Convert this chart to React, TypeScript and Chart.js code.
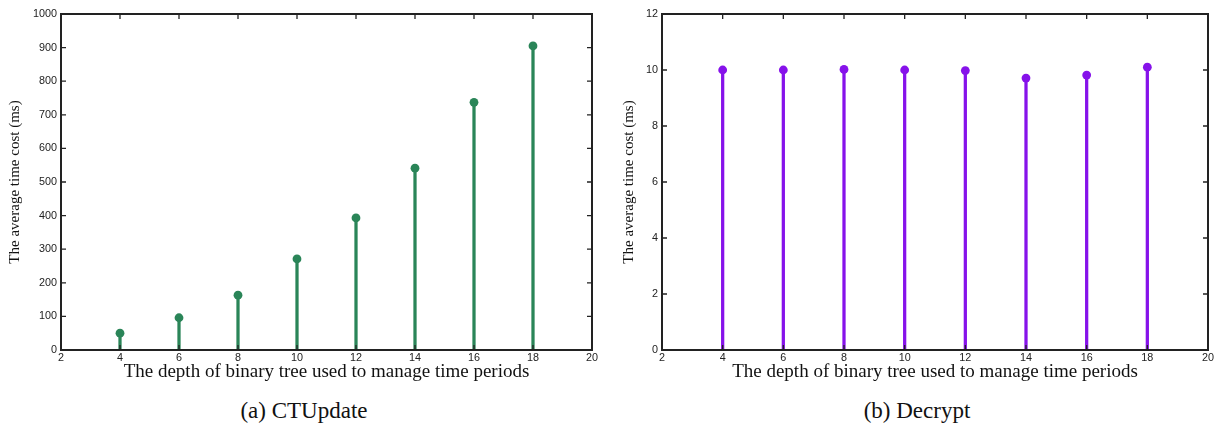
import React, { useEffect, useRef } from "react";
import { Chart, registerables } from "chart.js";

Chart.register(...registerables);

const depths = [4, 6, 8, 10, 12, 14, 16, 18];
const ctUpdateMs = [50, 96, 163, 271, 393, 541, 737, 905];
const decryptMs = [10.0, 10.0, 10.02, 10.0, 9.98, 9.71, 9.82, 10.1];

const xTitle = "The depth of binary tree used to manage time periods";
const yTitle = "The average time cost (ms)";

const framePlugin = {
  id: "frameTicks",
  afterDraw(chart: any) {
    const { ctx, chartArea: a, scales } = chart;
    const xs = scales.x;
    const ys = scales.y;
    const len = 5;
    ctx.save();
    ctx.strokeStyle = "#222";
    ctx.lineWidth = 1.3;
    ctx.beginPath();
    xs.ticks.forEach((t: any) => {
      const px = xs.getPixelForValue(t.value);
      ctx.moveTo(px, a.bottom);
      ctx.lineTo(px, a.bottom - len);
      ctx.moveTo(px, a.top);
      ctx.lineTo(px, a.top + len);
    });
    ys.ticks.forEach((t: any) => {
      const py = ys.getPixelForValue(t.value);
      ctx.moveTo(a.left, py);
      ctx.lineTo(a.left + len, py);
      ctx.moveTo(a.right, py);
      ctx.lineTo(a.right - len, py);
    });
    ctx.stroke();
    ctx.lineWidth = 2;
    ctx.strokeRect(a.left, a.top, a.right - a.left, a.bottom - a.top);
    ctx.restore();
  },
};

type StemProps = {
  values: number[];
  color: string;
  yMax: number;
  yStep: number;
  yAxisWidth: number;
  yTitlePad: number;
  rightPad: number;
  width: number;
};

function StemChart({ values, color, yMax, yStep, yAxisWidth, yTitlePad, rightPad, width }: StemProps) {
  const ref = useRef<HTMLCanvasElement | null>(null);
  useEffect(() => {
    if (!ref.current) return;
    const pts = depths.map((d, i) => ({ x: d, y: values[i] }));
    const tickFont = { family: "'Liberation Sans', Arial, sans-serif", size: 10.8 };
    const serif = "'Liberation Serif', 'Times New Roman', serif";
    const chart = new Chart(ref.current, {
      type: "bar",
      data: {
        datasets: [
          {
            type: "bar",
            data: pts,
            backgroundColor: color,
            borderWidth: 0,
            barThickness: 2.6,
          } as any,
          {
            type: "scatter",
            data: pts,
            backgroundColor: color,
            borderColor: color,
            pointRadius: 4.4,
            pointHoverRadius: 4.4,
            borderWidth: 0,
          } as any,
        ],
      },
      options: {
        animation: false,
        responsive: false,
        devicePixelRatio: 1,
        events: [],
        layout: { padding: { left: 0, top: 14, right: rightPad, bottom: 0 } },
        plugins: { legend: { display: false }, tooltip: { enabled: false } },
        scales: {
          x: {
            type: "linear",
            min: 2,
            max: 20,
            offset: false,
            grid: { display: false, drawTicks: false, offset: false },
            border: { display: false },
            ticks: { stepSize: 2, color: "#222", font: tickFont, padding: 2, maxRotation: 0 },
            title: {
              display: true,
              text: xTitle,
              color: "#111",
              font: { family: serif, size: 19, lineHeight: 1.2 },
              padding: { top: 0, bottom: 6.6 },
            },
            afterFit: (s: any) => {
              s.height = 40;
            },
          },
          y: {
            type: "linear",
            min: 0,
            max: yMax,
            grid: { display: false, drawTicks: false },
            border: { display: false },
            ticks: {
              stepSize: yStep,
              color: "#222",
              font: tickFont,
              padding: 4,
              callback: (v: any) => String(v),
            },
            title: {
              display: true,
              text: yTitle,
              color: "#111",
              font: { family: serif, size: 15, lineHeight: 1.2 },
              padding: { top: yTitlePad, bottom: 0 },
            },
            afterFit: (s: any) => {
              s.width = yAxisWidth;
            },
          },
        },
      } as any,
      plugins: [framePlugin],
    });
    return () => chart.destroy();
  }, []);
  return <canvas ref={ref} width={width} height={390} style={{ display: "block" }} />;
}

export default function App() {
  const captionStyle: React.CSSProperties = {
    position: "absolute",
    width: 300,
    textAlign: "center",
    top: 397,
    fontFamily: "'Liberation Serif', 'Times New Roman', serif",
    fontSize: 23,
    lineHeight: "28px",
    color: "#111",
  };
  return (
    <div style={{ position: "absolute", left: 0, top: 0, width: 1221, height: 426, background: "#fff" }}>
      <div style={{ position: "absolute", left: 0, top: 0 }}>
        <StemChart values={ctUpdateMs} color="#2a8558" yMax={1000} yStep={100} yAxisWidth={61} yTitlePad={6} rightPad={18} width={610} />
      </div>
      <div style={{ position: "absolute", left: 610, top: 0 }}>
        <StemChart values={decryptMs} color="#8612ea" yMax={12} yStep={2} yAxisWidth={52} yTitlePad={10} rightPad={13} width={611} />
      </div>
      <div style={{ ...captionStyle, left: 304 - 150 }}>(a) CTUpdate</div>
      <div style={{ ...captionStyle, left: 917 - 150 }}>(b) Decrypt</div>
    </div>
  );
}
